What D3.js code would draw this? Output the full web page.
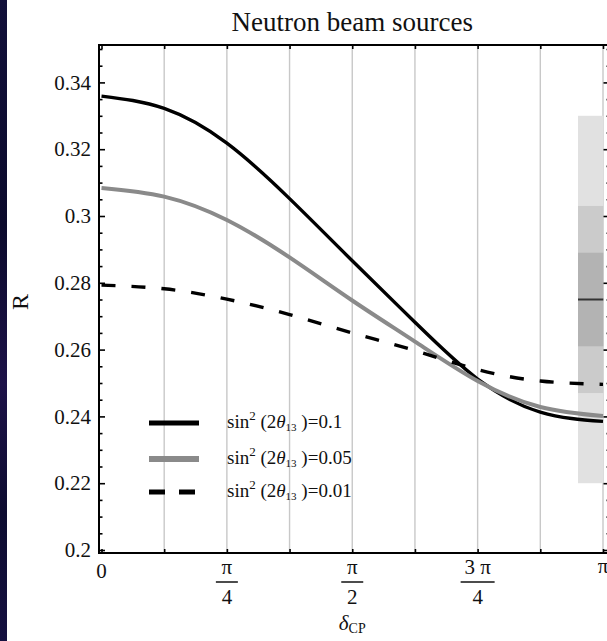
<!DOCTYPE html>
<html>
<head>
<meta charset="utf-8">
<script src="https://cdn.jsdelivr.net/npm/d3@7"></script>
<style>
  body { margin: 0; background: #fff; }
  svg { display: block; }
  text { font-family: "Liberation Serif", "Times New Roman", serif; fill: #111; }
</style>
</head>
<body>
<svg id="chart" width="607" height="641"></svg>
<script>
// δ_CP sample points, in units of π/8
const deltaSteps = [0, 1, 2, 3, 4, 5, 6, 7, 8];

// R(δ_CP) for each sin²(2θ13)
const seriesLabels = ["0.1", "0.05", "0.01"];
const rTheta010 = [0.3359, 0.3322, 0.3218, 0.3052, 0.2866, 0.2682, 0.2512, 0.2413, 0.2385];
const rTheta005 = [0.3084, 0.3058, 0.2988, 0.2876, 0.2747, 0.2624, 0.2506, 0.2428, 0.2401];
const rTheta001 = [0.2793, 0.2782, 0.2751, 0.2705, 0.2650, 0.2597, 0.2540, 0.2506, 0.2496];

// measured R: central value and nested uncertainty bands (outer → inner)
const measuredR = 0.275;
const measuredBands = [[0.220, 0.330], [0.247, 0.303], [0.261, 0.289]];

// axis ticks
const yTickValues = [0.20, 0.22, 0.24, 0.26, 0.28, 0.30, 0.32, 0.34];
const yTickLabels = ["0.2", "0.22", "0.24", "0.26", "0.28", "0.3", "0.32", "0.34"];
const yMinorTicks = [0.205, 0.21, 0.215, 0.225, 0.23, 0.235, 0.245, 0.25, 0.255, 0.265, 0.27, 0.275,
                     0.285, 0.29, 0.295, 0.305, 0.31, 0.315, 0.325, 0.33, 0.335, 0.345, 0.35];
const xTickSteps = [0, 2, 4, 6, 8];            // labelled ticks, multiples of π/8
const xTickNumerators = ["0", "π", "π", "3 π", "π"];
const xTickDenominators = ["", "4", "2", "4", ""];

const svg = d3.select("#chart");

// dark backdrop strip at the left edge
const grad = svg.append("defs").append("linearGradient")
  .attr("id", "backdrop").attr("x1", 0).attr("y1", 0).attr("x2", 0).attr("y2", 1);
[["0%", "#12103a"], ["35%", "#0b0a2c"], ["60%", "#1d1248"], ["80%", "#0d0c30"], ["100%", "#151040"]]
  .forEach(([o, c]) => grad.append("stop").attr("offset", o).attr("stop-color", c));
svg.append("rect").attr("x", 0).attr("y", 0).attr("width", 7).attr("height", 641).attr("fill", "url(#backdrop)");

const frame = { left: 99, right: 609.5, top: 45, bottom: 553 };
const x = d3.scaleLinear().domain([0, Math.PI]).range([101.5, 603]);
const y = d3.scaleLinear().domain([0.2, 0.35]).range([550, 49]);
const step = Math.PI / 8;

svg.append("clipPath").attr("id", "plotClip").append("rect")
  .attr("x", frame.left).attr("y", frame.top)
  .attr("width", frame.right - frame.left).attr("height", frame.bottom - frame.top);

// vertical grid lines every π/8
svg.append("g").selectAll("line").data(deltaSteps.slice(1)).join("line")
  .attr("x1", d => x(d * step)).attr("x2", d => x(d * step))
  .attr("y1", frame.top).attr("y2", frame.bottom)
  .attr("stroke", "#c8c8c8").attr("stroke-width", 1.4);

// measurement bands
const bandColours = ["#e1e1e1", "#cbcbcb", "#b3b3b3"];
const bandLeft = 578, bandRight = 603.3;
svg.append("g").selectAll("rect").data(measuredBands).join("rect")
  .attr("x", bandLeft).attr("width", bandRight - bandLeft)
  .attr("y", d => y(d[1])).attr("height", d => y(d[0]) - y(d[1]))
  .attr("fill", (d, i) => bandColours[i]);
svg.append("line")
  .attr("x1", bandLeft).attr("x2", bandRight)
  .attr("y1", y(measuredR)).attr("y2", y(measuredR))
  .attr("stroke", "#333").attr("stroke-width", 2);

// curves
const series = [
  { values: rTheta010, colour: "#000", width: 3.4, dash: null, legendWidth: 5 },
  { values: rTheta005, colour: "#8a8a8a", width: 4, dash: null, legendWidth: 6 },
  { values: rTheta001, colour: "#000", width: 3.4, dash: "14,16", legendWidth: 5 }
];
const line = d3.line()
  .x(d => x(d.delta)).y(d => y(d.r))
  .curve(d3.curveNatural);
const curves = svg.append("g").attr("clip-path", "url(#plotClip)");
series.forEach(s => {
  const pts = deltaSteps.map((k, i) => ({ delta: k * step, r: s.values[i] }));
  curves.append("path").datum(pts)
    .attr("d", line).attr("fill", "none")
    .attr("stroke", s.colour).attr("stroke-width", s.width)
    .attr("stroke-dasharray", s.dash);
});

// frame
svg.append("rect")
  .attr("x", frame.left).attr("y", frame.top)
  .attr("width", frame.right - frame.left).attr("height", frame.bottom - frame.top)
  .attr("fill", "none").attr("stroke", "#000").attr("stroke-width", 2);

// axes: ticks point inward
function styleAxis(g) {
  g.select(".domain").remove();
  g.selectAll(".tick line").attr("stroke", "#000").attr("stroke-width", 1.6);
}
svg.append("g").attr("transform", `translate(${frame.left},0)`)
  .call(d3.axisLeft(y).tickValues(yTickValues).tickSize(-6).tickPadding(8)
    .tickFormat((d, i) => yTickLabels[i]))
  .call(styleAxis)
  .call(g => g.selectAll("text").attr("font-size", 21).attr("fill", "#111")
    .attr("font-family", "Liberation Serif, serif"));
svg.append("g").attr("transform", `translate(${frame.left},0)`)
  .call(d3.axisLeft(y).tickValues(yMinorTicks).tickSize(-3.5).tickFormat(""))
  .call(styleAxis);
svg.append("g").attr("transform", `translate(${frame.right},0)`)
  .call(d3.axisRight(y).tickValues(yTickValues).tickSize(-6).tickFormat(""))
  .call(styleAxis);
svg.append("g").attr("transform", `translate(${frame.right},0)`)
  .call(d3.axisRight(y).tickValues(yMinorTicks).tickSize(-3).tickFormat(""))
  .call(styleAxis);
svg.append("g").attr("transform", `translate(0,${frame.bottom})`)
  .call(d3.axisBottom(x).tickValues(deltaSteps.map(k => k * step)).tickSize(-4).tickFormat(""))
  .call(styleAxis);
svg.append("g").attr("transform", `translate(0,${frame.top})`)
  .call(d3.axisTop(x).tickValues(deltaSteps.map(k => k * step)).tickSize(-4).tickFormat(""))
  .call(styleAxis);

// x tick labels as stacked fractions
const xLabels = svg.append("g").attr("font-size", 21);
xTickSteps.forEach((k, i) => {
  const cx = x(k * step);
  const num = xTickNumerators[i], den = xTickDenominators[i];
  if (!den) {
    xLabels.append("text").attr("x", cx).attr("y", num === "0" ? 578 : 573)
      .attr("text-anchor", "middle").text(num);
    return;
  }
  xLabels.append("text").attr("x", cx).attr("y", 574).attr("text-anchor", "middle").text(num);
  const half = num.length > 1 ? 17 : 11;
  xLabels.append("line").attr("x1", cx - half).attr("x2", cx + half)
    .attr("y1", 582).attr("y2", 582).attr("stroke", "#111").attr("stroke-width", 1.5);
  xLabels.append("text").attr("x", cx).attr("y", 604).attr("text-anchor", "middle").text(den);
});

// axis titles
const xTitle = svg.append("text").attr("x", x(Math.PI / 2)).attr("y", 630)
  .attr("text-anchor", "middle").attr("font-size", 21);
xTitle.append("tspan").attr("font-style", "italic").text("δ");
xTitle.append("tspan").attr("font-size", 14).attr("dy", 3).text("CP");

svg.append("text").attr("transform", "translate(28,302) rotate(-90)")
  .attr("text-anchor", "middle").attr("font-size", 24).text("R");

// title
svg.append("text").attr("x", x(Math.PI / 2)).attr("y", 31)
  .attr("text-anchor", "middle").attr("font-size", 27).text("Neutron beam sources");

// legend
const legendRows = [423, 459, 492];
const legend = svg.append("g");
series.forEach((s, i) => {
  const ly = legendRows[i];
  legend.append("line").attr("x1", 149).attr("x2", 199).attr("y1", ly).attr("y2", ly)
    .attr("stroke", s.colour).attr("stroke-width", s.legendWidth)
    .attr("stroke-dasharray", s.dash ? "16,14" : null);
  const t = legend.append("text").attr("x", 227).attr("y", ly + 5).attr("font-size", 19);
  t.append("tspan").text("sin");
  t.append("tspan").attr("font-size", 13).attr("dy", -8).text("2");
  t.append("tspan").attr("dy", 8).text(" (2");
  t.append("tspan").attr("font-style", "italic").text("θ");
  t.append("tspan").attr("font-size", 11).attr("dy", 3).text("13");
  t.append("tspan").attr("dy", -3).text(" )=" + seriesLabels[i]);
});
</script>
</body>
</html>
